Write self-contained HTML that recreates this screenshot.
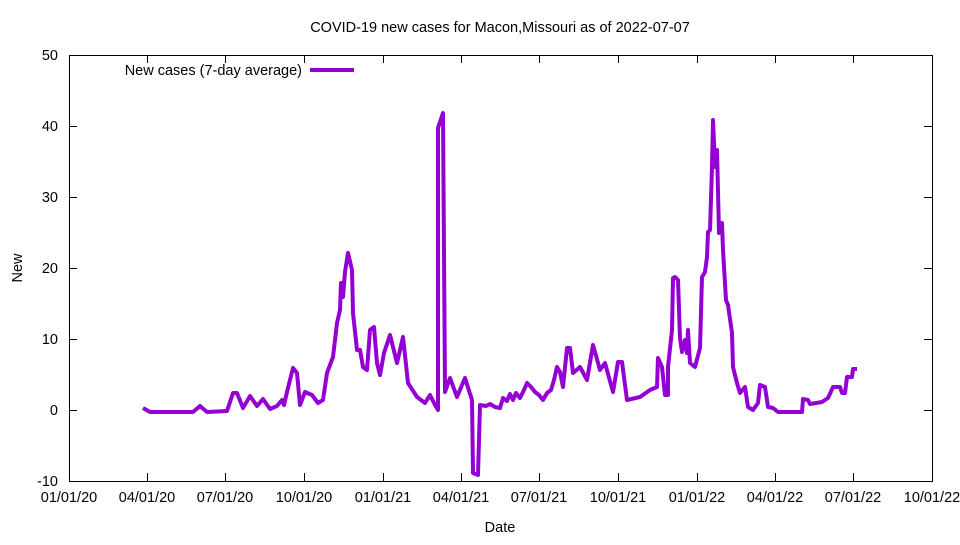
<!DOCTYPE html>
<html><head><meta charset="utf-8"><style>body{margin:0;background:#fff}</style></head><body>
<svg width="960" height="540" xmlns="http://www.w3.org/2000/svg" font-family="Liberation Sans, sans-serif" font-size="14.5">
<rect width="960" height="540" fill="#fff"/>
<g stroke="#000" stroke-width="1" fill="none">
<rect x="69.5" y="55.5" width="863" height="426"/>
<path d="M69 55.5h8M932 55.5h-8M69 126.5h8M932 126.5h-8M69 197.5h8M932 197.5h-8M69 268.5h8M932 268.5h-8M69 339.5h8M932 339.5h-8M69 410.5h8M932 410.5h-8"/>
<path d="M147.5 481v-8M147.5 55v8M225.5 481v-8M225.5 55v8M304.5 481v-8M304.5 55v8M383.5 481v-8M383.5 55v8M461.5 481v-8M461.5 55v8M539.5 481v-8M539.5 55v8M618.5 481v-8M618.5 55v8M697.5 481v-8M697.5 55v8M775.5 481v-8M775.5 55v8M853.5 481v-8M853.5 55v8"/>
</g>
<g text-anchor="end">
<text x="58" y="60">50</text><text x="58" y="131">40</text><text x="58" y="202">30</text><text x="58" y="273">20</text><text x="58" y="344">10</text><text x="58" y="415">0</text><text x="58" y="486">-10</text>
</g>
<g text-anchor="middle">
<text x="69" y="502">01/01/20</text><text x="147" y="502">04/01/20</text><text x="225" y="502">07/01/20</text><text x="304" y="502">10/01/20</text><text x="383" y="502">01/01/21</text><text x="461" y="502">04/01/21</text><text x="539" y="502">07/01/21</text><text x="618" y="502">10/01/21</text><text x="697" y="502">01/01/22</text><text x="775" y="502">04/01/22</text><text x="853" y="502">07/01/22</text><text x="932" y="502">10/01/22</text>
<text x="500" y="532">Date</text>
<text x="500" y="32">COVID-19 new cases for Macon,Missouri as of 2022-07-07</text>
<text x="22" y="268" transform="rotate(-90 22 268)">New</text>
</g>
<text x="302" y="75" text-anchor="end">New cases (7-day average)</text>
<path d="M310 70h44" stroke="#9400d3" stroke-width="4"/>
<polyline fill="none" stroke="#9400d3" stroke-width="4" stroke-linejoin="round" points="143,408 150,412 193,412 200,406 207,412 227,411 233,393 237,393 243,408 250,396 257,406 263,399 270,409 277,406 282,400 284,405 287,392 293,368 297,373 300,405 305,392 312,395 318,403 323,400 327,373 333,357 337,323 340,310 341,283 343,297 345,272 348,253 352,270 353,313 357,350 360,350 363,367 367,370 370,330 374,327 377,363 380,375 384,353 390,335 397,363 403,337 408,383 417,397 425,403 430,395 435,405 438,410 438,128 443,113 445,392 450,378 457,397 465,378 472,400 473,473 478,475 480,405 486,406 490,404 495,407 500,408 503,398 507,401 510,394 513,400 516,393 520,398 524,390 527,383 531,387 535,392 539,395 543,400 547,393 551,390 554,380 557,367 560,372 563,387 567,348 570,348 573,373 580,367 587,380 593,345 600,370 605,363 613,392 618,362 622,362 627,400 640,397 650,390 657,387 658,358 662,367 665,395 668,395 668,367 672,330 673,278 675,277 678,280 680,338 682,352 685,340 687,353 688,330 690,363 695,367 700,348 702,277 705,272 707,257 708,232 710,230 712,167 713,120 715,167 717,150 719,233 722,223 723,250 726,300 728,305 732,333 733,367 737,383 740,393 745,387 748,407 753,410 758,403 760,385 765,387 768,407 773,408 778,412 802,412 803,399 808,400 810,404 822,402 828,398 833,387 840,387 842,393 845,393 847,377 852,377 853,369 857,369"/>
</svg>
</body></html>
